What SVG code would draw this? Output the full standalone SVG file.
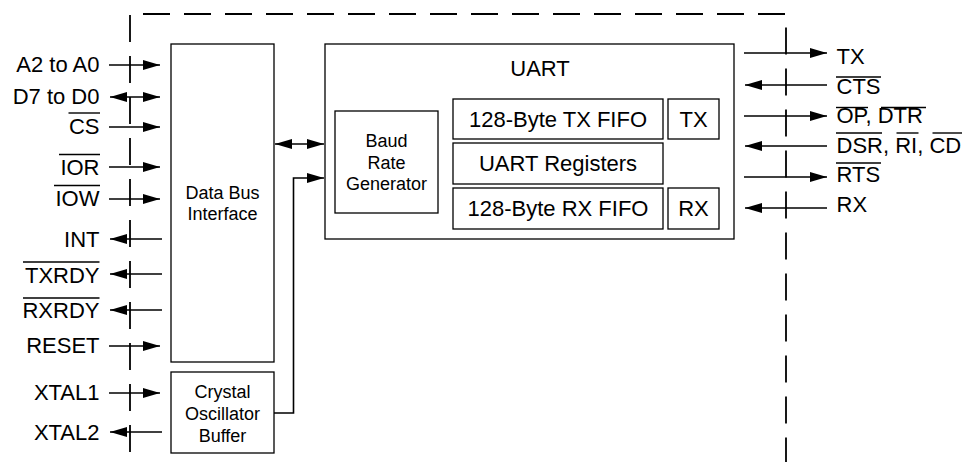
<svg xmlns="http://www.w3.org/2000/svg" width="969" height="462" viewBox="0 0 969 462">
<style>
.box{fill:#fff;stroke:#000;stroke-width:1.3}
.ln{fill:none;stroke:#000;stroke-width:1.6}
.dash{fill:none;stroke:#000;stroke-width:1.8;stroke-dasharray:27 14}
.ol{stroke:#000;stroke-width:1.4}
.t{font-family:"Liberation Sans",Arial,Helvetica,sans-serif;font-size:22px;fill:#000}
.s{font-family:"Liberation Sans",Arial,Helvetica,sans-serif;font-size:18px;fill:#000}
.e{text-anchor:end}
.m{text-anchor:middle}
</style>
<defs>
<marker id="ah" markerUnits="userSpaceOnUse" viewBox="0 0 17 10" markerWidth="17" markerHeight="10" refX="17" refY="5" orient="auto-start-reverse">
<path d="M0,0L17,5L0,10z" fill="#000"/>
</marker>
</defs>
<rect width="969" height="462" fill="#fff"/>

<g id="boundary">
<line class="dash" x1="130" y1="15" x2="130" y2="452"/>
<line class="dash" x1="143" y1="14" x2="785" y2="14"/>
<line class="dash" x1="786" y1="27.5" x2="786" y2="462"/>
</g>

<g id="connectors">
<line class="ln" x1="109" y1="65" x2="160" y2="65" marker-end="url(#ah)"/>
<line class="ln" x1="110" y1="97" x2="160" y2="97" marker-start="url(#ah)" marker-end="url(#ah)"/>
<line class="ln" x1="109" y1="127" x2="160" y2="127" marker-end="url(#ah)"/>
<line class="ln" x1="109" y1="167" x2="160" y2="167" marker-end="url(#ah)"/>
<line class="ln" x1="109" y1="199" x2="160" y2="199" marker-end="url(#ah)"/>
<line class="ln" x1="162" y1="239" x2="110" y2="239" marker-end="url(#ah)"/>
<line class="ln" x1="162" y1="274" x2="110" y2="274" marker-end="url(#ah)"/>
<line class="ln" x1="162" y1="310" x2="110" y2="310" marker-end="url(#ah)"/>
<line class="ln" x1="109" y1="346" x2="160" y2="346" marker-end="url(#ah)"/>
<line class="ln" x1="109" y1="393" x2="160" y2="393" marker-end="url(#ah)"/>
<line class="ln" x1="162" y1="432" x2="110" y2="432" marker-end="url(#ah)"/>
<line class="ln" x1="275" y1="144" x2="324" y2="144" marker-start="url(#ah)" marker-end="url(#ah)"/>
<path class="ln" d="M274,413H293.5V178H324" marker-end="url(#ah)"/>
<line class="ln" x1="744" y1="53" x2="827" y2="53" marker-end="url(#ah)"/>
<line class="ln" x1="827" y1="85" x2="745" y2="85" marker-end="url(#ah)"/>
<line class="ln" x1="744" y1="116" x2="827" y2="116" marker-end="url(#ah)"/>
<line class="ln" x1="827" y1="146" x2="745" y2="146" marker-end="url(#ah)"/>
<line class="ln" x1="744" y1="177" x2="827" y2="177" marker-end="url(#ah)"/>
<line class="ln" x1="827" y1="208" x2="745" y2="208" marker-end="url(#ah)"/>
</g>

<g id="left-signals">
<text class="t e" x="99.5" y="72">A2 to A0</text>
<text class="t e" x="99.5" y="103.5">D7 to D0</text>
<text class="t e" x="99.5" y="133.5">CS</text>
<line class="ol" x1="68.5" y1="113" x2="100" y2="113"/>
<text class="t e" x="99.5" y="175">IOR</text>
<line class="ol" x1="59" y1="154.5" x2="100" y2="154.5"/>
<text class="t e" x="99.5" y="206">IOW</text>
<line class="ol" x1="54" y1="185.5" x2="100" y2="185.5"/>
<text class="t e" x="99.5" y="246.5">INT</text>
<text class="t e" x="99.5" y="282.5">TXRDY</text>
<line class="ol" x1="23" y1="262" x2="99.5" y2="262"/>
<text class="t e" x="99.5" y="318">RXRDY</text>
<line class="ol" x1="23" y1="298" x2="99.5" y2="298"/>
<text class="t e" x="99.5" y="353">RESET</text>
<text class="t e" x="99.5" y="400">XTAL1</text>
<text class="t e" x="99.5" y="440">XTAL2</text>
</g>

<g id="right-signals">
<text class="t" x="836.5" y="64">TX</text>
<text class="t" x="836.5" y="93.5">CTS</text>
<line class="ol" x1="836" y1="77" x2="881" y2="77"/>
<text class="t" x="836.5" y="123">OP, DTR</text>
<line class="ol" x1="836" y1="107.5" x2="868" y2="107.5"/>
<line class="ol" x1="881" y1="107.5" x2="926" y2="107.5"/>
<text class="t" x="836.5" y="152.5">DSR, RI, CD</text>
<line class="ol" x1="836" y1="133" x2="882" y2="133"/>
<line class="ol" x1="896.5" y1="133" x2="918.5" y2="133"/>
<line class="ol" x1="932.5" y1="133" x2="962" y2="133"/>
<text class="t" x="836.5" y="182">RTS</text>
<line class="ol" x1="836" y1="163" x2="881" y2="163"/>
<text class="t" x="836.5" y="211.5">RX</text>
</g>

<g id="data-bus-interface">
<rect class="box" x="171" y="44" width="103" height="318"/>
<text class="s m" x="222.5" y="198.5">Data Bus</text>
<text class="s m" x="222.5" y="220">Interface</text>
</g>

<g id="crystal-oscillator-buffer">
<rect class="box" x="171" y="372" width="103" height="81"/>
<text class="s m" x="222.5" y="398">Crystal</text>
<text class="s m" x="222.5" y="420">Oscillator</text>
<text class="s m" x="222.5" y="441.5">Buffer</text>
</g>

<g id="uart">
<rect class="box" x="325" y="44" width="409" height="195"/>
<text class="t m" x="540" y="76">UART</text>
</g>

<g id="baud-rate-generator">
<rect class="box" x="335" y="111" width="103" height="102"/>
<text class="s m" x="386.5" y="147">Baud</text>
<text class="s m" x="386.5" y="168.5">Rate</text>
<text class="s m" x="386.5" y="190">Generator</text>
</g>

<g id="tx-fifo">
<rect class="box" x="453" y="99" width="210" height="40"/>
<text class="t m" x="558" y="127">128-Byte TX FIFO</text>
</g>

<g id="uart-registers">
<rect class="box" x="453" y="143" width="210" height="41"/>
<text class="t m" x="558" y="171">UART Registers</text>
</g>

<g id="rx-fifo">
<rect class="box" x="453" y="188" width="210" height="41"/>
<text class="t m" x="558" y="215.5">128-Byte RX FIFO</text>
</g>

<g id="tx">
<rect class="box" x="668" y="99" width="51" height="40"/>
<text class="t m" x="693.5" y="127">TX</text>
</g>

<g id="rx">
<rect class="box" x="668" y="188" width="51" height="41"/>
<text class="t m" x="693.5" y="215.5">RX</text>
</g>
</svg>
